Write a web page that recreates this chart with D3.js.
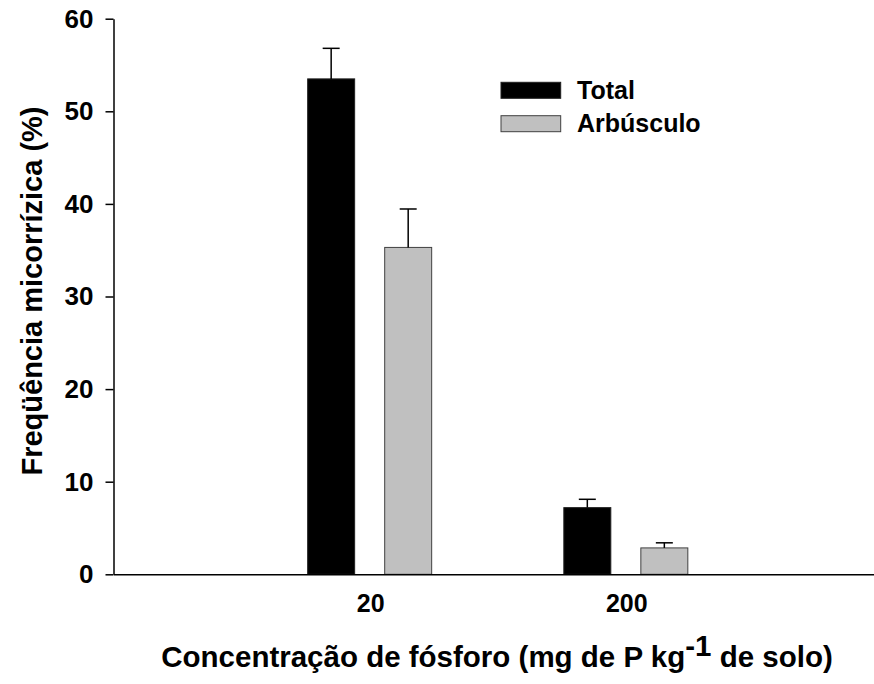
<!DOCTYPE html>
<html>
<head>
<meta charset="utf-8">
<script src="https://cdn.jsdelivr.net/npm/d3@7"></script>
<style>
  body { margin: 0; background: #fff; }
  svg text { font-family: Arial, "Liberation Sans", sans-serif; font-weight: bold; fill: #000; }
</style>
</head>
<body>
<div id="chart"></div>
<script>
// concentration levels and the two series
const categories = ['20', '200'];
const series = ['Total', 'Arbúsculo'];
const totalValues = [53.5, 7.2];
const totalErrors = [3.3, 0.9];
const arbValues = [35.3, 2.85];
const arbErrors = [4.15, 0.55];
const yTicks = [0, 10, 20, 30, 40, 50, 60];

const width = 874, height = 684;
const margin = {top: 18.7, left: 113.5, bottom: 110};
const fills = {'Total': '#000000', 'Arbúsculo': '#c0c0c0'};
const strokes = {'Total': '#202020', 'Arbúsculo': '#404040'};

const svg = d3.select('#chart')
  .append('svg')
  .attr('width', width)
  .attr('height', height);

const y = d3.scaleLinear()
  .domain([0, 60])
  .range([574.3, margin.top]);

const x = d3.scaleBand()
  .domain(categories)
  .range([margin.left, 884])
  .paddingInner(0)
  .paddingOuter(0.504);

const xs = d3.scaleBand()
  .domain(series)
  .range([-63, 61])
  .paddingInner(0.39)
  .paddingOuter(0);

// rows: one per bar
const rows = [];
categories.forEach((c, i) => {
  rows.push({cat: c, s: 'Total', v: totalValues[i], e: totalErrors[i]});
  rows.push({cat: c, s: 'Arbúsculo', v: arbValues[i], e: arbErrors[i]});
});
const cx = d => x(d.cat) + x.bandwidth() / 2;

// bars
svg.selectAll('rect.bar')
  .data(rows)
  .enter().append('rect')
  .attr('class', 'bar')
  .attr('x', d => cx(d) + xs(d.s))
  .attr('y', d => y(d.v))
  .attr('width', xs.bandwidth())
  .attr('height', d => y(0) - y(d.v))
  .attr('fill', d => fills[d.s])
  .attr('stroke', d => strokes[d.s])
  .attr('stroke-width', 1);

// error bars (upper only)
const err = svg.selectAll('g.err')
  .data(rows)
  .enter().append('g')
  .attr('class', 'err')
  .attr('stroke', '#000')
  .attr('stroke-width', 1.5);
err.append('line')
  .attr('x1', d => cx(d) + xs(d.s) + xs.bandwidth() / 2)
  .attr('x2', d => cx(d) + xs(d.s) + xs.bandwidth() / 2)
  .attr('y1', d => y(d.v))
  .attr('y2', d => y(d.v + d.e));
err.append('line')
  .attr('x1', d => cx(d) + xs(d.s) + xs.bandwidth() / 2 - 8.5)
  .attr('x2', d => cx(d) + xs(d.s) + xs.bandwidth() / 2 + 8.5)
  .attr('y1', d => y(d.v + d.e))
  .attr('y2', d => y(d.v + d.e));

// y axis
const yAxis = svg.append('g')
  .attr('transform', `translate(${margin.left},0)`)
  .call(d3.axisLeft(y).tickValues(yTicks).tickSize(8).tickSizeOuter(0).tickPadding(12));
yAxis.selectAll('text').style('font-size', '26px');

// x axis
const xAxis = svg.append('g')
  .attr('transform', `translate(0,${y(0)})`)
  .call(d3.axisBottom(x).tickSize(0).tickSizeOuter(0).tickPadding(20));
xAxis.selectAll('text').style('font-size', '25px');

svg.selectAll('.domain, .tick line')
  .attr('stroke', '#000')
  .attr('stroke-width', 1.5);
svg.selectAll('.tick text').attr('fill', '#000').attr('font-family', null);

// legend
const legend = svg.append('g')
  .attr('transform', 'translate(501,82.3)');
const li = legend.selectAll('g')
  .data(series)
  .enter().append('g')
  .attr('transform', (d, i) => `translate(0,${i * 33.4})`);
li.append('rect')
  .attr('width', 59.7)
  .attr('height', 16)
  .attr('fill', d => fills[d])
  .attr('stroke', d => strokes[d])
  .attr('stroke-width', 1);
li.append('text')
  .attr('x', 76)
  .attr('y', 16.5)
  .style('font-size', '25px')
  .text(d => d);

// axis titles
svg.append('text')
  .attr('transform', 'translate(42,291) rotate(-90)')
  .attr('text-anchor', 'middle')
  .style('font-size', '29px')
  .text('Freqüência micorrízica (%)');

const xt = svg.append('text')
  .attr('x', 497)
  .attr('y', 667)
  .attr('text-anchor', 'middle')
  .style('font-size', '29.5px');
xt.append('tspan').text('Concentração de fósforo (mg de P kg');
xt.append('tspan').attr('dy', -11).text('-1');
xt.append('tspan').attr('dy', 11).text(' de solo)');
</script>
</body>
</html>
